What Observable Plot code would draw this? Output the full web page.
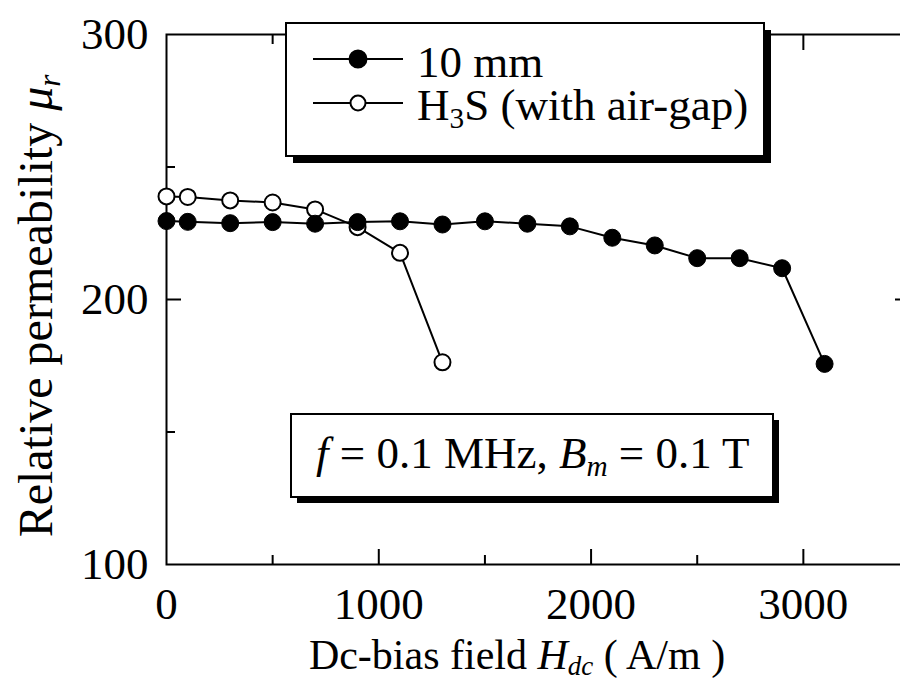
<!DOCTYPE html>
<html><head><meta charset="utf-8">
<script src="https://cdn.jsdelivr.net/npm/d3@7"></script>
<script src="https://cdn.jsdelivr.net/npm/@observablehq/plot@0.6"></script>
<style>
html,body{margin:0;padding:0;background:#fff;overflow:hidden}
#wrap{width:900px;height:682px;overflow:hidden;position:relative}
#wrap svg{max-width:none !important;display:block}
svg text{font-family:"Liberation Serif","Times New Roman",serif}
</style></head><body><div id="wrap"></div>
<script>
// Series: 10 mm (filled) and H3S with air-gap (open)
const hdc10 = [0,100,300,500,700,900,1100,1300,1500,1700,1900,2100,2300,2500,2700,2900,3100];
const mu10  = [229.6,229.3,228.8,229.2,228.6,229.2,229.5,228.3,229.5,228.6,227.6,223.3,220.4,215.6,215.6,211.8,175.7];
const hdcGap = [0,100,300,500,700,900,1100,1300];
const muGap  = [238.9,238.7,237.4,236.6,234.0,227.3,217.6,176.3];

const seriesNames = ["10 mm", "H3S (with air-gap)"];
const xTickLabels = [0,1000,2000,3000];
const yTickLabels = [100,200,300];
const xMajorTicks = [1000,2000,3000];
const xMinorTicks = [500,1500,2500];
const yMajorTicks = [200];
const yMinorTicks = [150,250];

const d10 = hdc10.map((x,i)=>({x, y: mu10[i]}));
const dGap = hdcGap.map((x,i)=>({x, y: muGap[i]}));

const FS = 45;
const fmt = d => String(d);
const plot = Plot.plot({
  width: 920, height: 682,
  marginLeft: 166, marginRight: 11, marginTop: 34, marginBottom: 118,
  style: {fontFamily: '"Liberation Serif","Times New Roman",serif', fontSize: FS + "px", color: "black", background: "white", maxWidth: "none"},
  x: {domain: [0,3500]},
  y: {domain: [100,300]},
  marks: [
    Plot.axisX(xTickLabels, {anchor:"bottom", tickSize:0, tickPadding:23, fontSize:FS, label:null, tickFormat: fmt}),
    Plot.axisY(yTickLabels, {anchor:"left", tickSize:0, tickPadding:18, fontSize:FS, label:null, tickFormat: fmt}),
    Plot.axisX(xMajorTicks, {anchor:"bottom", tickSize:-15, strokeWidth:2, fill:"none", label:null}),
    Plot.axisX(xMinorTicks, {anchor:"bottom", tickSize:-9, strokeWidth:2, fill:"none", label:null}),
    Plot.axisX(xMajorTicks, {anchor:"top", tickSize:-15, strokeWidth:2, fill:"none", label:null}),
    Plot.axisX(xMinorTicks, {anchor:"top", tickSize:-9, strokeWidth:2, fill:"none", label:null}),
    Plot.axisY(yMajorTicks, {anchor:"left", tickSize:-15, strokeWidth:2, fill:"none", label:null}),
    Plot.axisY(yMinorTicks, {anchor:"left", tickSize:-9, strokeWidth:2, fill:"none", label:null}),
    Plot.axisY(yMajorTicks, {anchor:"right", tickSize:-15, strokeWidth:2, fill:"none", label:null}),
    Plot.axisY(yMinorTicks, {anchor:"right", tickSize:-9, strokeWidth:2, fill:"none", label:null}),
    Plot.frame({stroke:"black", strokeWidth:2}),
    Plot.line(dGap, {x:"x", y:"y", stroke:"black", strokeWidth:2}),
    Plot.dot(dGap, {x:"x", y:"y", r:8, fill:"white", stroke:"black", strokeWidth:2}),
    Plot.line(d10, {x:"x", y:"y", stroke:"black", strokeWidth:2}),
    Plot.dot(d10, {x:"x", y:"y", r:8.5, fill:"black", stroke:"black", strokeWidth:1})
  ]
});
plot.style.maxWidth = "none";
document.getElementById("wrap").appendChild(plot);

const svg = d3.select(plot);
const g = svg.append("g").attr("font-size", FS).attr("fill","black").attr("text-anchor","start");

function box(x,y,w,h,off){
  g.append("rect").attr("x",x+off).attr("y",y+off).attr("width",w).attr("height",h).attr("fill","black");
  g.append("rect").attr("x",x).attr("y",y).attr("width",w).attr("height",h).attr("fill","white").attr("stroke","black").attr("stroke-width",2);
}
// legend
box(286,23,478,133,7);
const legRows = [{y:59, fill:"black", r:8.5}, {y:103, fill:"white", r:7.5}];
legRows.forEach(row=>{
  g.append("line").attr("x1",313).attr("x2",403).attr("y1",row.y).attr("y2",row.y).attr("stroke","black").attr("stroke-width",2);
  g.append("circle").attr("cx",358).attr("cy",row.y).attr("r",row.r).attr("fill",row.fill).attr("stroke","black").attr("stroke-width",2);
});
g.append("text").attr("x",417).attr("y",77).text(seriesNames[0]);
const t2 = g.append("text").attr("x",417).attr("y",120);
t2.append("tspan").text("H");
t2.append("tspan").attr("font-size",FS*0.65).attr("dy",8).text("3");
t2.append("tspan").attr("dy",-8).text("S (with air-gap)");

// annotation box
box(291,414,482,83,6);
const ta = g.append("text").attr("x",316).attr("y",468);
ta.append("tspan").attr("font-style","italic").text("f");
ta.append("tspan").text(" = 0.1 MHz, ");
ta.append("tspan").attr("font-style","italic").text("B");
ta.append("tspan").attr("font-style","italic").attr("font-size",FS*0.65).attr("dy",8).text("m");
ta.append("tspan").attr("dy",-8).text(" = 0.1 T");

// x label
const tx = g.append("text").attr("x",517).attr("y",669).attr("text-anchor","middle").attr("font-size",42);
tx.append("tspan").text("Dc-bias field ");
tx.append("tspan").attr("font-style","italic").text("H");
tx.append("tspan").attr("font-style","italic").attr("font-size",27).attr("dy",6).text("dc");
tx.append("tspan").attr("dy",-6).text(" ( A/m )");

// y label
const ty = g.append("text").attr("transform","translate(52,306) rotate(-90)").attr("text-anchor","middle").attr("font-size",48);
ty.append("tspan").text("Relative permeability ");
ty.append("tspan").attr("font-style","italic").text("μ");
ty.append("tspan").attr("font-style","italic").attr("font-size",31).attr("dy",8).text("r");
</script></body></html>
